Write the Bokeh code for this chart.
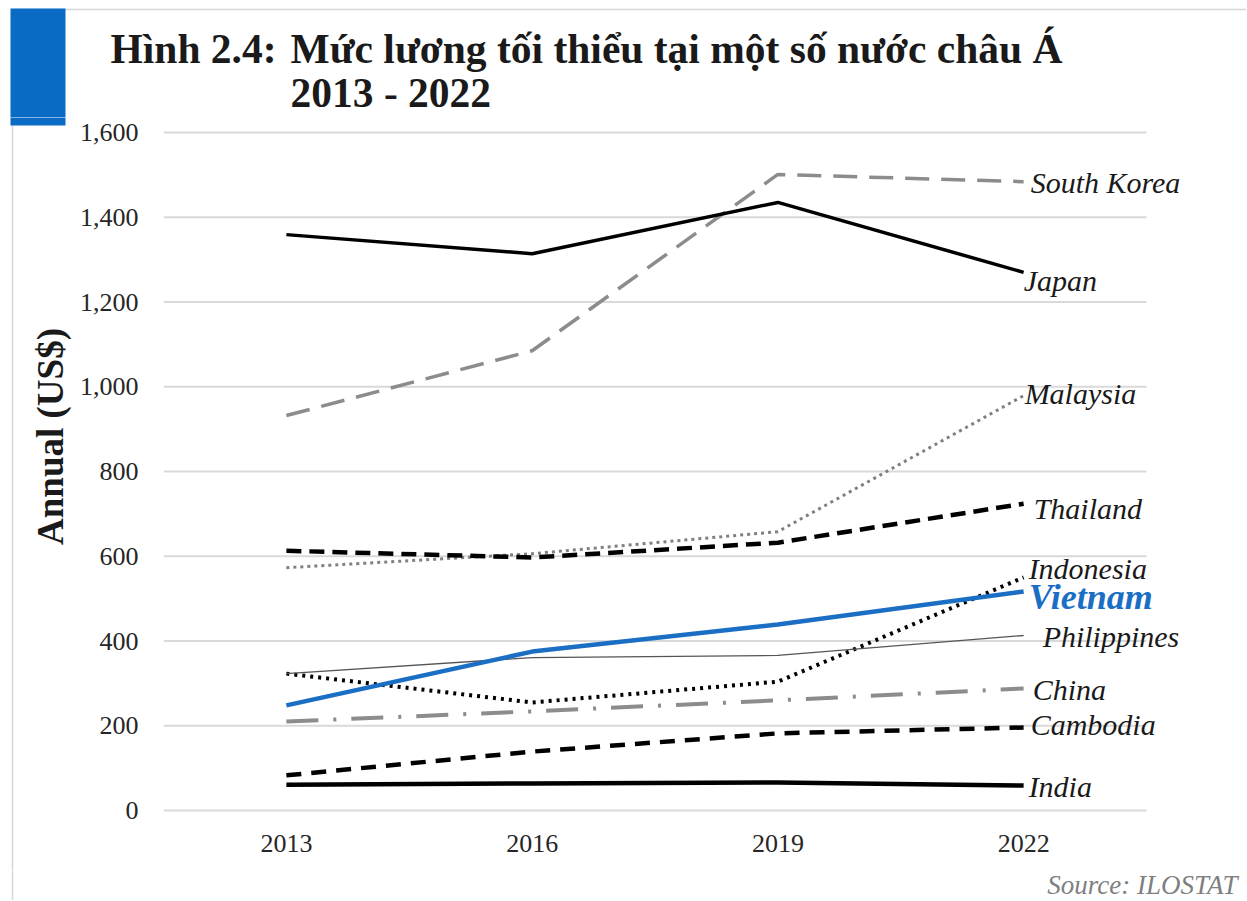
import math
from bokeh.plotting import figure
from bokeh.layouts import column, row
from bokeh.models import FixedTicker, NumeralTickFormatter, Range1d
from bokeh.core.properties import value
from bokeh.embed import file_html
from bokeh.resources import INLINE

# ---- data ----
years = [2013, 2016, 2019, 2022]
south_korea = [932, 1085, 1501, 1484]
japan = [1359, 1314, 1435, 1270]
malaysia = [573, 606, 658, 979]
thailand = [613, 597, 632, 724]
indonesia = [323, 255, 304, 550]
vietnam = [248, 375, 439, 517]
philippines = [323, 361, 366, 413]
china = [210, 234, 260, 288]
cambodia = [83, 139, 182, 196]
india = [61, 64, 66, 59]
y_ticks = [0, 200, 400, 600, 800, 1000, 1200, 1400, 1600]

title_prefix = "Hình 2.4:"
title_line1 = "Mức lương tối thiểu tại một số nước châu Á"
title_line2 = "2013 - 2022"
y_label = "Annual (US$)"
source_text = "Source: ILOSTAT"

SERIF = value("Liberation Serif")
W = 1246
BLUE = "#0a6bc4"
BORDER = "#d6d6d6"

# vertical bands of the page (pixels from top)
T_H = 117          # title band
M_TOP, M_H = 117, 753
S_TOP, S_H = 870, 30
L_W = 75


def blank(w, h):
    f = figure(width=w, height=h, output_backend="svg", toolbar_location=None,
               x_range=Range1d(0, w), y_range=Range1d(0, h),
               x_axis_type=None, y_axis_type=None, min_border=0, frame_align=False)
    f.outline_line_color = None
    f.background_fill_color = "white"
    f.border_fill_color = "white"
    return f


# ---- title band ----
t = blank(W, T_H)
ty = lambda top: T_H - top
t.segment(x0=[12], x1=[W], y0=[ty(9)], y1=[ty(9)], line_color=BORDER, line_width=1.5)
t.segment(x0=[12], x1=[12], y0=[ty(9)], y1=[-5], line_color=BORDER, line_width=1.5)
t.quad(left=[10], right=[65], top=[ty(8)], bottom=[-5], fill_color=BLUE, line_color=None)
t.text(x=[110, 290, 290], y=[ty(48), ty(48), ty(92)], text=[title_prefix, title_line1, title_line2],
       text_font=SERIF, text_font_style="bold", text_font_size="41.5px", text_color="#1a1a1a",
       text_baseline="middle", text_align="left")

# ---- left band with the axis title ----
l = blank(L_W, M_H)
ly = lambda top: M_TOP + M_H - top
l.segment(x0=[12], x1=[12], y0=[-5], y1=[M_H + 5], line_color=BORDER, line_width=1.5)
l.quad(left=[10], right=[65], top=[M_H + 5], bottom=[ly(125)], fill_color=BLUE, line_color=None)
l.text(x=[50], y=[ly(436)], text=[y_label], angle=math.pi / 2,
       text_font=SERIF, text_font_style="bold", text_font_size="37px", text_color="#1a1a1a",
       text_align="center", text_baseline="middle")

# ---- main chart ----
step = (years[1] - years[0])
x_lo = years[0] - step / 2
x_hi = years[-1] + step / 2
FRAME_LEFT, GRID_RIGHT = 163, 1146          # page pixels
px_per_year = (GRID_RIGHT - FRAME_LEFT) / (x_hi - x_lo)
x_end = x_lo + (W - FRAME_LEFT) / px_per_year
Y0_PX, Y1600_PX = 810, 132
px_per_unit = (Y0_PX - Y1600_PX) / y_ticks[-1]
F_TOP, F_BOT = 130, 812
y_start = -(F_BOT - Y0_PX) / px_per_unit
y_end = y_ticks[-1] + (Y1600_PX - F_TOP) / px_per_unit

p = figure(width=W - L_W, height=M_H, output_backend="svg", toolbar_location=None,
           x_range=Range1d(x_lo, x_end), y_range=Range1d(y_start, y_end),
           min_border_left=FRAME_LEFT - L_W, min_border_right=0,
           min_border_top=F_TOP - M_TOP, min_border_bottom=M_TOP + M_H - F_BOT,
           frame_align=False)
p.outline_line_color = None
p.background_fill_color = "white"
p.border_fill_color = "white"
p.xgrid.grid_line_color = None
p.ygrid.grid_line_color = None

for ax in (p.xaxis[0], p.yaxis[0]):
    ax.axis_line_color = None
    ax.major_tick_line_color = None
    ax.minor_tick_line_color = None
    ax.major_label_text_font = "Liberation Serif"
    ax.major_label_text_font_size = "26px"
    ax.major_label_text_color = "#262626"
p.xaxis[0].ticker = FixedTicker(ticks=years)
p.xaxis[0].major_label_standoff = 16
p.yaxis[0].ticker = FixedTicker(ticks=y_ticks)
p.yaxis[0].formatter = NumeralTickFormatter(format="0,0")
p.yaxis[0].major_label_standoff = 19

# horizontal gridlines spanning the category band only
p.segment(x0=[x_lo] * len(y_ticks), x1=[x_hi] * len(y_ticks), y0=y_ticks, y1=y_ticks,
          line_color="#d9d9d9", line_width=2)

series = [
    ("South Korea", south_korea, dict(line_color="#8c8c8c", line_width=3.5, line_dash="24 12")),
    ("Japan", japan, dict(line_color="black", line_width=3.5)),
    ("Malaysia", malaysia, dict(line_color="#808080", line_width=3, line_dash="3 4")),
    ("Thailand", thailand, dict(line_color="black", line_width=4.5, line_dash="15 8")),
    ("Indonesia", indonesia, dict(line_color="black", line_width=4, line_dash="3 5")),
    ("Philippines", philippines, dict(line_color="#555555", line_width=1.3)),
    ("China", china, dict(line_color="#8c8c8c", line_width=4, line_dash="32 15 3 15")),
    ("Cambodia", cambodia, dict(line_color="black", line_width=4.5, line_dash="15 10")),
    ("India", india, dict(line_color="black", line_width=4.5)),
    ("Vietnam", vietnam, dict(line_color="#1a6fc4", line_width=4.5)),
]
for name, vals, style in series:
    p.line(years, vals, **style)

# end labels: (x offset px, y offset px downward) from each line's last point
label_offsets = {
    "South Korea": (7, 1), "Japan": (0, 8), "Malaysia": (1, -2), "Thailand": (10, 5),
    "Indonesia": (5, -9), "Vietnam": (5, 6), "Philippines": (19, 1), "China": (9, 1),
    "Cambodia": (7, -3), "India": (5, 1),
}
plain = [s for s in series if s[0] != "Vietnam"]
p.text(x=[years[-1]] * len(plain), y=[s[1][-1] for s in plain], text=[s[0] for s in plain],
       x_offset=[label_offsets[s[0]][0] for s in plain], y_offset=[label_offsets[s[0]][1] for s in plain],
       text_font=SERIF, text_font_style="italic", text_font_size="30px", text_color="#1a1a1a",
       text_baseline="middle", text_align="left")
p.text(x=[years[-1]], y=[vietnam[-1]], text=["Vietnam"],
       x_offset=label_offsets["Vietnam"][0], y_offset=label_offsets["Vietnam"][1],
       text_font=SERIF, text_font_style="bold italic", text_font_size="36px", text_color="#1a6fc4",
       text_baseline="middle", text_align="left")

# ---- source band ----
s = blank(W, S_H)
sy = lambda top: S_TOP + S_H - top
s.segment(x0=[12], x1=[12], y0=[-5], y1=[S_H + 5], line_color=BORDER, line_width=1.5)
s.text(x=[1237], y=[sy(884)], text=[source_text], text_font=SERIF, text_font_style="italic",
       text_font_size="27px", text_color="#7f7f7f", text_align="right", text_baseline="middle")

layout = column(t, row(l, p), s)
open("out.html", "w").write(file_html(layout, INLINE))
